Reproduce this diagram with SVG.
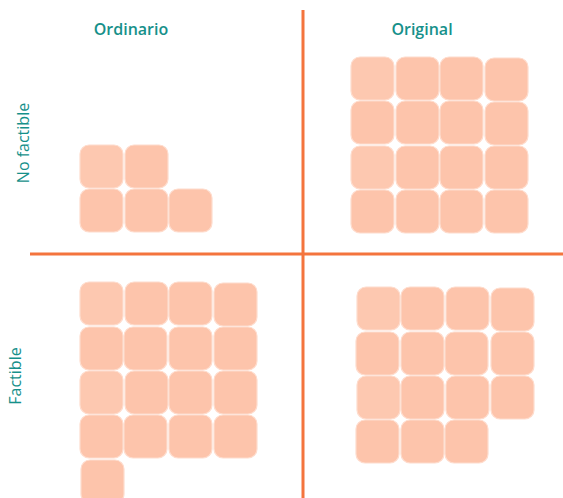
<svg xmlns="http://www.w3.org/2000/svg" width="563" height="498" viewBox="0 0 563 498">
<style>
.s{fill:#fdc4ab;stroke:#fedccd;stroke-width:1.2}
.l{fill:#fdc8b0}
.t{font-family:"Open Sans","Liberation Sans",sans-serif;font-weight:600;font-size:16px;fill:#16908a}
.v{font-weight:500}
.ax{stroke:#f4743d;stroke-width:3}
</style>
<defs><rect id="sq" width="43" height="43" rx="9"/></defs>
<g id="axes">
<line class="ax" x1="303" y1="10" x2="303" y2="498"/>
<line class="ax" x1="30" y1="254" x2="563" y2="254"/>
</g>
<g id="labels">
<text class="t" x="131" y="35" text-anchor="middle">Ordinario</text>
<text class="t" x="422" y="35" text-anchor="middle">Original</text>
<text class="t v" transform="translate(29,143) rotate(-90)" text-anchor="middle">No factible</text>
<text class="t v" transform="translate(21,376) rotate(-90)" text-anchor="middle">Factible</text>
</g>
<g id="q-ordinario-nofactible">
<use href="#sq" class="s l" x="80" y="145"/><use href="#sq" class="s" x="125" y="145"/>
<use href="#sq" class="s" x="80" y="189"/><use href="#sq" class="s" x="125" y="189"/><use href="#sq" class="s" x="169" y="189"/>
</g>
<g id="q-original-nofactible">
<use href="#sq" class="s l" x="351" y="57"/><use href="#sq" class="s" x="396" y="57"/><use href="#sq" class="s" x="440" y="57"/><use href="#sq" class="s" x="485" y="58"/>
<use href="#sq" class="s" x="351" y="101"/><use href="#sq" class="s" x="396" y="101"/><use href="#sq" class="s" x="440" y="101"/><use href="#sq" class="s" x="485" y="102"/>
<use href="#sq" class="s l" x="351" y="146"/><use href="#sq" class="s" x="396" y="146"/><use href="#sq" class="s" x="440" y="146"/><use href="#sq" class="s" x="485" y="146"/>
<use href="#sq" class="s" x="351" y="190"/><use href="#sq" class="s" x="396" y="190"/><use href="#sq" class="s" x="440" y="190"/><use href="#sq" class="s" x="485" y="190"/>
</g>
<g id="q-ordinario-factible">
<use href="#sq" class="s l" x="80" y="282"/><use href="#sq" class="s" x="125" y="282"/><use href="#sq" class="s" x="169" y="282"/><use href="#sq" class="s" x="214" y="283"/>
<use href="#sq" class="s" x="80" y="327"/><use href="#sq" class="s" x="124" y="327"/><use href="#sq" class="s" x="169" y="327"/><use href="#sq" class="s" x="214" y="327"/>
<use href="#sq" class="s l" x="80" y="371"/><use href="#sq" class="s" x="125" y="371"/><use href="#sq" class="s" x="169" y="371"/><use href="#sq" class="s" x="214" y="371"/>
<use href="#sq" class="s" x="80" y="415"/><use href="#sq" class="s" x="124" y="415"/><use href="#sq" class="s" x="169" y="415"/><use href="#sq" class="s" x="214" y="415"/>
<use href="#sq" class="s" x="81" y="460"/>
</g>
<g id="q-original-factible">
<use href="#sq" class="s l" x="357" y="287"/><use href="#sq" class="s" x="401" y="287"/><use href="#sq" class="s" x="446" y="287"/><use href="#sq" class="s" x="491" y="288"/>
<use href="#sq" class="s" x="356" y="332"/><use href="#sq" class="s" x="401" y="332"/><use href="#sq" class="s" x="445" y="332"/><use href="#sq" class="s" x="491" y="332"/>
<use href="#sq" class="s l" x="357" y="376"/><use href="#sq" class="s" x="401" y="376"/><use href="#sq" class="s" x="446" y="376"/><use href="#sq" class="s" x="491" y="376"/>
<use href="#sq" class="s" x="356" y="420"/><use href="#sq" class="s" x="401" y="420"/><use href="#sq" class="s" x="445" y="420"/>
</g>
</svg>
